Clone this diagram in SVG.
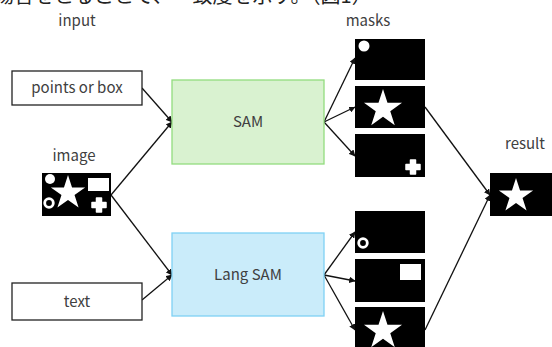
<svg xmlns="http://www.w3.org/2000/svg" width="552" height="347" viewBox="0 0 552 347">
<defs>
<style>
.lbl{font-family:"Noto Sans CJK JP","Liberation Sans",sans-serif;font-size:15px;fill:#404040;text-anchor:middle}
.in{fill:#fff;stroke:#222;stroke-width:1.3}
.th{fill:#000}
.w{fill:#fff}
.c{stroke:#111;stroke-width:1.3;fill:none;marker-end:url(#ah)}
</style>
<marker id="ah" viewBox="0 0 10 10" refX="9" refY="5" markerWidth="5" markerHeight="5" orient="auto" markerUnits="strokeWidth">
<path d="M0,0 L10,5 L0,10 z" fill="#111"/>
</marker>
<polygon id="star" points="0,-10 2.245,-3.09 9.51,-3.09 3.63,1.18 5.88,8.09 0,3.82 -5.88,8.09 -3.63,1.18 -9.51,-3.09 -2.245,-3.09"/>
<path id="cross" d="M-2.5,-7 H2.5 V-2.5 H7 V2.5 H2.5 V7 H-2.5 V2.5 H-7 V-2.5 H-2.5 Z" stroke="#fff" stroke-width="1.5" stroke-linejoin="round"/>
</defs>
<rect width="552" height="347" fill="#fff"/>
<text x="-6" y="3" style="font-family:'Noto Sans CJK JP',sans-serif;font-size:20px;fill:#222">場合をとることで、一致度を示す。（図1）</text>

<text class="lbl" x="77" y="26">input</text>
<text class="lbl" x="368" y="26">masks</text>
<text class="lbl" x="74" y="161">image</text>
<text class="lbl" x="525" y="149">result</text>

<g id="connectors">
<line class="c" x1="142" y1="88" x2="172" y2="122"/>
<line class="c" x1="111" y1="195" x2="172" y2="122"/>
<line class="c" x1="111" y1="195" x2="172" y2="275"/>
<line class="c" x1="142" y1="300" x2="172" y2="275"/>
<line class="c" x1="324" y1="122" x2="355" y2="58"/>
<line class="c" x1="324" y1="122" x2="355" y2="107"/>
<line class="c" x1="324" y1="122" x2="355" y2="156"/>
<line class="c" x1="324" y1="275" x2="355" y2="232"/>
<line class="c" x1="324" y1="275" x2="355" y2="281"/>
<line class="c" x1="324" y1="275" x2="355" y2="330"/>
<line class="c" x1="425" y1="107" x2="490" y2="195"/>
<line class="c" x1="425" y1="330" x2="490" y2="195"/>
</g>

<g id="points">
<rect class="in" x="12" y="71" width="130" height="34"/>
<text class="lbl" x="77" y="93">points or box</text>
</g>
<g id="text">
<rect class="in" x="12" y="283" width="130" height="37"/>
<text class="lbl" x="77" y="307">text</text>
</g>
<g id="image">
<rect class="th" x="42" y="173" width="69" height="43"/>
<circle class="w" cx="50" cy="179" r="5"/>
<circle cx="49" cy="203" r="4.3" fill="none" stroke="#fff" stroke-width="2.8"/>
<use href="#star" class="w" transform="translate(68,193) scale(1.8)"/>
<rect class="w" x="88" y="178" width="21" height="13"/>
<use href="#cross" class="w" transform="translate(99,205)"/>
</g>
<g id="sam">
<rect x="172" y="80" width="152" height="84" fill="#d9f2d0" stroke="#92dc7e" stroke-width="1.3"/>
<text class="lbl" x="248" y="127">SAM</text>
</g>
<g id="langsam">
<rect x="172" y="233" width="152" height="83" fill="#caecfa" stroke="#7fd2f4" stroke-width="1.3"/>
<text class="lbl" x="248" y="280">Lang SAM</text>
</g>
<g id="mask1">
<rect class="th" x="355" y="39" width="70" height="41"/>
<circle class="w" cx="364" cy="46" r="5.5"/>
</g>
<g id="mask2">
<rect class="th" x="355" y="86" width="70" height="42"/>
<use href="#star" class="w" transform="translate(383,109) scale(2)"/>
</g>
<g id="mask3">
<rect class="th" x="355" y="134" width="70" height="43"/>
<use href="#cross" class="w" transform="translate(413,167)"/>
</g>
<g id="mask4">
<rect class="th" x="355" y="211" width="70" height="42"/>
<circle cx="363" cy="243" r="4.3" fill="none" stroke="#fff" stroke-width="2.8"/>
</g>
<g id="mask5">
<rect class="th" x="355" y="259" width="70" height="43"/>
<rect class="w" x="400" y="264" width="21" height="16"/>
</g>
<g id="mask6">
<rect class="th" x="355" y="307" width="70" height="45"/>
<use href="#star" class="w" transform="translate(383,331) scale(2)"/>
</g>
<g id="result">
<rect class="th" x="490" y="173" width="62" height="43"/>
<use href="#star" class="w" transform="translate(516,196) scale(1.8)"/>
</g>
</svg>
